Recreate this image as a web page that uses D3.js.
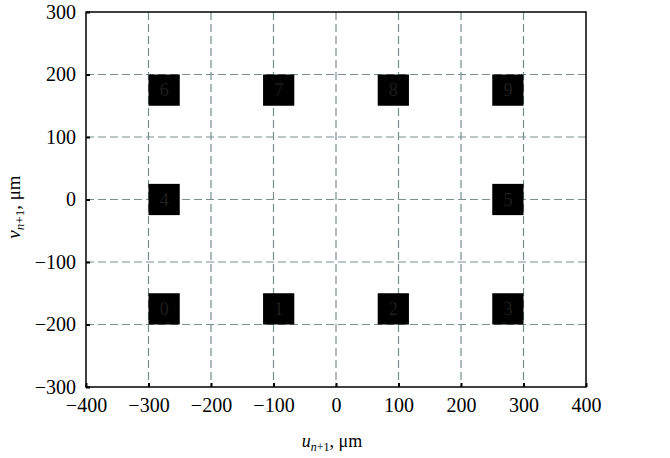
<!DOCTYPE html>
<html><head><meta charset="utf-8">
<script src="https://cdn.jsdelivr.net/npm/d3@7"></script>
<style>body{margin:0;background:#fff}svg{display:block}</style>
</head><body>
<svg id="c" width="670" height="458"></svg>
<script>
const xTicks = [-400,-300,-200,-100,0,100,200,300,400];
const yTicks = [-300,-200,-100,0,100,200,300];
const labels = ["0","1","2","3","4","5","6","7","8","9"];
// lower-left corners (u, v) of each 50x50 µm square
const sqU = [-300,-116.7,66.7,250,-300,250,-300,-116.7,66.7,250];
const sqV = [-200,-200,-200,-200,-25,-25,150,150,150,150];
const sqSize = 50;

const svg = d3.select("#c");
const L=86,R=586,T=12,B=387;
const x = d3.scaleLinear().domain([-400,400]).range([L,R]);
const y = d3.scaleLinear().domain([-300,300]).range([B,T]);
const grid = "#7b8e8e";
const FF = "Liberation Serif";

// grid
svg.append("g").selectAll("line").data(xTicks.filter(d=>d>-400&&d<400)).join("line")
  .attr("x1",d=>x(d)).attr("x2",d=>x(d)).attr("y1",T).attr("y2",B)
  .attr("stroke",grid).attr("stroke-width",1.2).attr("stroke-dasharray","8,4");
svg.append("g").selectAll("line").data(yTicks.filter(d=>d>-300&&d<300)).join("line")
  .attr("y1",d=>y(d)).attr("y2",d=>y(d)).attr("x1",L).attr("x2",R)
  .attr("stroke",grid).attr("stroke-width",1.2).attr("stroke-dasharray","8,4");

// squares
const sq = svg.append("g").selectAll("g").data(labels).join("g");
sq.append("rect")
  .attr("x",(d,i)=>x(sqU[i])).attr("y",(d,i)=>y(sqV[i]+sqSize))
  .attr("width",(d,i)=>x(sqU[i]+sqSize)-x(sqU[i]))
  .attr("height",(d,i)=>y(sqV[i])-y(sqV[i]+sqSize))
  .attr("fill","#000");
sq.append("text")
  .attr("x",(d,i)=>x(sqU[i]+sqSize/2)).attr("y",(d,i)=>y(sqV[i]+sqSize/2)+6)
  .attr("text-anchor","middle").style("font-family",FF).style("font-size","18px")
  .attr("fill","#1e1e1e").text(d=>d);

// axes
const fmt = d=>d<0?"\u2212"+(-d):d;
const xa = svg.append("g").attr("transform",`translate(0,${B})`)
  .call(d3.axisBottom(x).tickValues(xTicks).tickSize(-4).tickPadding(12).tickFormat(fmt));
const ya = svg.append("g").attr("transform",`translate(${L},0)`)
  .call(d3.axisLeft(y).tickValues(yTicks).tickSize(-4).tickPadding(10).tickFormat(fmt));
[xa,ya].forEach(a=>{
  a.attr("font-family",null).attr("font-size",null);
  a.select(".domain").remove();
  a.selectAll(".tick line").attr("stroke","#000").attr("stroke-width",2);
  a.selectAll("text").style("font-family",FF).style("font-size","20px").attr("fill","#000");
});
xa.selectAll("text").attr("dy","0.66em");
// frame
svg.append("rect").attr("x",L).attr("y",T).attr("width",R-L).attr("height",B-T)
  .attr("fill","none").attr("stroke","#000").attr("stroke-width",1.5);

// axis titles
const xt = svg.append("text").attr("x",332).attr("y",447).attr("text-anchor","middle")
  .style("font-family",FF).style("font-size","18px").attr("fill","#000");
xt.append("tspan").style("font-style","italic").text("u");
xt.append("tspan").style("font-size","12px").attr("dy",4).style("font-style","italic").text("n");
xt.append("tspan").style("font-size","12px").text("+1");
xt.append("tspan").attr("dy",-4).text(", \u03bcm");

const yt = svg.append("text").attr("transform","translate(20,207) rotate(-90)").attr("text-anchor","middle")
  .style("font-family",FF).style("font-size","19px").attr("fill","#000");
yt.append("tspan").style("font-style","italic").text("v");
yt.append("tspan").style("font-size","13px").attr("dy",4).style("font-style","italic").text("n");
yt.append("tspan").style("font-size","13px").text("+1");
yt.append("tspan").attr("dy",-4).text(", \u03bcm");
</script>
</body></html>
